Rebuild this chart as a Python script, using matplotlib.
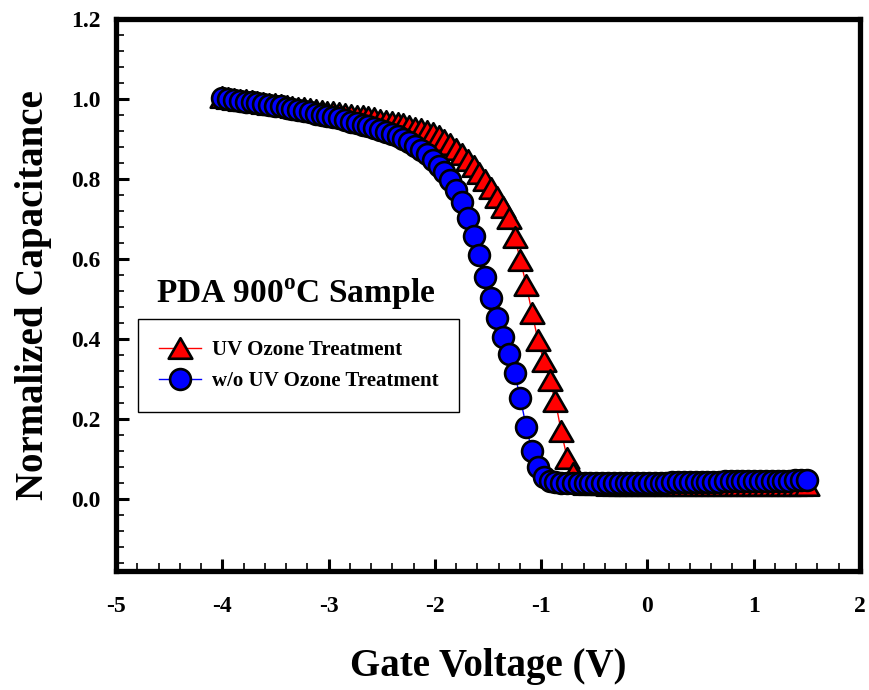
import numpy as np
import matplotlib
matplotlib.use("Agg")
import matplotlib.pyplot as plt
from matplotlib.path import Path
from matplotlib.ticker import MultipleLocator

plt.rcParams['font.family'] = ['Liberation Serif', 'DejaVu Serif']
plt.rcParams['font.weight'] = 'bold'
plt.rcParams['axes.unicode_minus'] = False
plt.rcParams['mathtext.fontset'] = 'custom'
plt.rcParams['mathtext.rm'] = 'Liberation Serif:bold'
plt.rcParams['mathtext.bf'] = 'Liberation Serif:bold'

# gate voltage sweep, -4 V to 1.5 V in 55 mV steps
gate_v = np.round(np.arange(101) * 0.055 - 4.0, 3)

# normalized C-V, with UV ozone treatment
cap_uv = [1.005, 1.003, 1.001, 0.999, 0.997, 0.995, 0.993, 0.991, 0.989, 0.987,
          0.985, 0.983, 0.981, 0.979, 0.977, 0.975, 0.973, 0.971, 0.969, 0.967,
          0.965, 0.963, 0.961, 0.959, 0.957, 0.955, 0.952, 0.949, 0.946, 0.943,
          0.940, 0.937, 0.933, 0.929, 0.925, 0.920, 0.915, 0.908, 0.899, 0.888,
          0.876, 0.863, 0.848, 0.832, 0.815, 0.797, 0.777, 0.755, 0.730, 0.702,
          0.656, 0.598, 0.536, 0.466, 0.398, 0.346, 0.298, 0.244, 0.169, 0.103,
          0.065, 0.045, 0.038, 0.037, 0.037, 0.037, 0.036, 0.036, 0.036, 0.036,
          0.036, 0.036, 0.036, 0.036, 0.036, 0.036, 0.036, 0.036, 0.036, 0.036,
          0.036, 0.036, 0.036, 0.036, 0.036, 0.036, 0.036, 0.036, 0.036, 0.036,
          0.036, 0.036, 0.036, 0.036, 0.036, 0.036, 0.036, 0.036, 0.036, 0.036,
          0.036]

# normalized C-V, without treatment
cap_ref = [1.003, 1.000, 0.998, 0.996, 0.994, 0.992, 0.990, 0.988, 0.986, 0.984,
           0.982, 0.979, 0.976, 0.973, 0.970, 0.967, 0.964, 0.961, 0.958, 0.955,
           0.952, 0.948, 0.944, 0.940, 0.936, 0.932, 0.928, 0.923, 0.918, 0.913,
           0.907, 0.900, 0.892, 0.883, 0.873, 0.862, 0.849, 0.834, 0.817, 0.797,
           0.773, 0.742, 0.703, 0.659, 0.610, 0.556, 0.503, 0.452, 0.405, 0.363,
           0.316, 0.252, 0.181, 0.119, 0.080, 0.056, 0.046, 0.042, 0.040, 0.040,
           0.040, 0.039, 0.039, 0.039, 0.039, 0.039, 0.040, 0.040, 0.040, 0.040,
           0.040, 0.040, 0.041, 0.041, 0.041, 0.041, 0.041, 0.042, 0.042, 0.042,
           0.042, 0.042, 0.043, 0.043, 0.043, 0.043, 0.044, 0.044, 0.044, 0.044,
           0.045, 0.045, 0.045, 0.045, 0.046, 0.046, 0.046, 0.046, 0.047, 0.047,
           0.047]

# slightly wide triangle marker
tri = Path([(0, 1), (-1.15, -1), (1.15, -1), (0, 1)],
           [Path.MOVETO, Path.LINETO, Path.LINETO, Path.CLOSEPOLY])

fig = plt.figure(figsize=(8.69, 6.90), dpi=100)
ax = fig.add_axes([0.1335, 0.1725, 0.856, 0.7995])

ax.plot(gate_v, cap_uv, color='red', lw=1, marker=tri, ms=17,
        mfc='red', mec='black', mew=1.9, label='UV Ozone Treatment')
ax.plot(gate_v, cap_ref, color='blue', lw=1, marker='o', ms=15,
        mfc='blue', mec='black', mew=1.9, label='w/o UV Ozone Treatment')

ax.set_xlim(-5, 2)
ax.set_ylim(-0.18, 1.2)
ax.xaxis.set_major_locator(MultipleLocator(1))
ax.xaxis.set_minor_locator(MultipleLocator(0.2))
ax.yaxis.set_minor_locator(MultipleLocator(0.04))
ax.set_yticks([0.0, 0.2, 0.4, 0.6, 0.8, 1.0, 1.2])
ax.set_yticklabels(['0.0', '0.2', '0.4', '0.6', '0.8', '1.0', '1.2'])

ax.tick_params(which='both', direction='in', top=False, right=False)
ax.tick_params(which='major', length=9, width=2.2, labelsize=17)
ax.tick_params(which='minor', length=6, width=1.2)
ax.tick_params(axis='x', which='major', pad=18)
ax.tick_params(axis='y', which='major', pad=11)
for s in ax.spines.values():
    s.set_linewidth(3.8)

ax.set_xlabel('Gate Voltage (V)', fontsize=28, fontweight='bold', labelpad=22)
ax.set_ylabel('Normalized Capacitance', fontsize=28, fontweight='bold', labelpad=14)

ax.text(-4.62, 0.49, r'PDA 900$^\mathbf{o}$C Sample', fontsize=24, fontweight='bold')

leg = ax.legend(loc='upper left', bbox_to_anchor=(138 / 869, 1 - 319 / 690),
                bbox_transform=fig.transFigure, borderaxespad=0, fontsize=15,
                handlelength=2.0, handletextpad=0.55, borderpad=1.0,
                labelspacing=0.55, fancybox=False, framealpha=1)
leg.get_frame().set_edgecolor('black')
leg.get_frame().set_linewidth(1.0)

fig.savefig('out.png', dpi=100)
